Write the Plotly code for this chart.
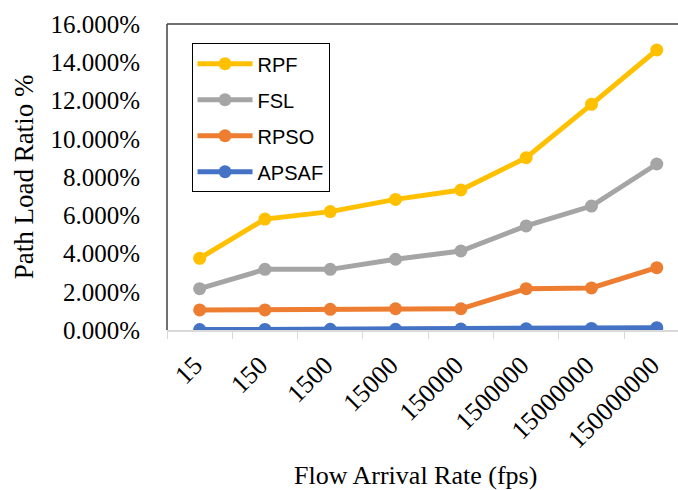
import plotly.graph_objects as go

categories = ["15", "150", "1500", "15000", "150000", "1500000", "15000000", "150000000"]
rpf = [3.75, 5.80, 6.19, 6.83, 7.32, 9.01, 11.80, 14.64]
fsl = [2.16, 3.17, 3.17, 3.70, 4.13, 5.44, 6.48, 8.68]
rpso = [1.05, 1.05, 1.08, 1.11, 1.11, 2.16, 2.20, 3.26]
apsaf = [0.02, 0.03, 0.04, 0.04, 0.05, 0.06, 0.08, 0.12]
series_names = ["RPF", "FSL", "RPSO", "APSAF"]
series_values = [rpf, fsl, rpso, apsaf]
colors = ["#FFC000", "#A5A5A5", "#ED7D31", "#4472C4"]
y_ticks = [0, 2, 4, 6, 8, 10, 12, 14, 16]

fig = go.Figure()
for i, (name, vals, col) in enumerate(zip(series_names, series_values, colors)):
    fig.add_trace(go.Scatter(
        x=categories, y=vals, name=name, mode="lines+markers",
        line=dict(color=col, width=5),
        marker=dict(color=col, size=13),
        legendgroup=f"g{i}",
    ))

fig.update_layout(
    width=678, height=490,
    margin=dict(l=167, r=0, t=24, b=160),
    paper_bgcolor="white", plot_bgcolor="white",
    showlegend=True,
    legend=dict(
        x=0.048, y=0.937, xanchor="left", yanchor="top",
        bordercolor="#000000", borderwidth=1, bgcolor="white",
        font=dict(family="Liberation Sans", size=20, color="#000000"),
        tracegroupgap=7, traceorder="grouped", itemwidth=55,
    ),
    xaxis=dict(
        type="category", range=[-0.5, 7.325],
        showline=True, linecolor="#D9D9D9", linewidth=1.5,
        ticks="outside", ticklen=7, tickcolor="#D9D9D9", tickwidth=1,
        tickson="boundaries", showgrid=False, zeroline=False,
        tickangle=-45, ticklabelshift=-5, ticklabelstandoff=8,
        tickfont=dict(family="Liberation Serif", size=26, color="#000000"),
    ),
    yaxis=dict(
        range=[0, 16], tickvals=y_ticks,
        ticktext=[f"{v:.3f}%" for v in y_ticks],
        showgrid=False, zeroline=False, showline=False, ticks="",
        ticklabelstandoff=26,
        tickfont=dict(family="Liberation Serif", size=25, color="#000000"),
        title=dict(text="Path Load Ratio %", standoff=8,
                   font=dict(family="Liberation Serif", size=27, color="#000000")),
    ),
    shapes=[
        dict(type="line", xref="paper", yref="paper", x0=0, x1=0, y0=0, y1=1,
             line=dict(color="#404040", width=1.5)),
        dict(type="line", xref="paper", yref="paper", x0=0, x1=1, y0=1, y1=1,
             line=dict(color="#404040", width=1.5)),
    ],
    annotations=[
        dict(text="Flow Arrival Rate (fps)", xref="paper", yref="paper",
             x=(415 - 167) / 511, y=-(475 - 330) / 306, xanchor="center", yanchor="middle",
             showarrow=False,
             font=dict(family="Liberation Serif", size=26, color="#000000")),
    ],
)

fig.write_html("out.html")
